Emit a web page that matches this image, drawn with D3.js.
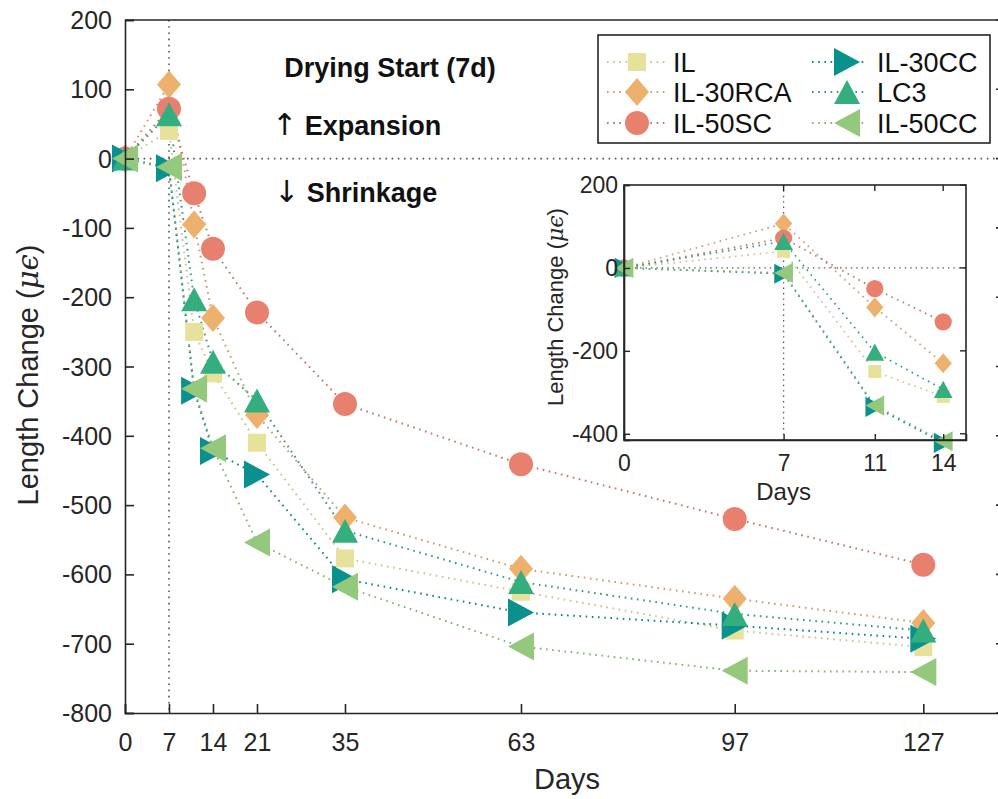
<!DOCTYPE html>
<html>
<head>
<meta charset="utf-8">
<script src="https://cdn.jsdelivr.net/npm/d3@7"></script>
<style>
  body { margin: 0; background: #fff; }
  svg { font-family: "Liberation Sans", Arial, Helvetica, sans-serif; }
</style>
</head>
<body>
<svg id="chart" width="998" height="799"></svg>
<script>
// data
var days = [0, 7, 11, 14, 21, 35, 63, 97, 127];
var seriesNames = ["IL", "IL-30RCA", "IL-50SC", "IL-30CC", "LC3", "IL-50CC"];
var IL       = [0, 40, -250, -310, -410, -577, -625, -681, -705];
var IL30RCA  = [0, 107, -95, -230, -370, -518, -592, -635, -670];
var IL50SC   = [0, 72, -50, -130, -222, -354, -441, -520, -586];
var IL30CC   = [0, -14, -335, -422, -456, -607, -655, -674, -693];
var LC3      = [0, 64, -203, -293, -349, -537, -611, -657, -681];
var IL50CC   = [0, -12, -332, -418, -554, -618, -704, -739, -741];
var xTicks = [0, 7, 14, 21, 35, 63, 97, 127];
var yTicks = [200, 100, 0, -100, -200, -300, -400, -500, -600, -700, -800];
var insetDays = [0, 7, 11, 14];
var insetYTicks = [200, 0, -200, -400];

var values = [IL, IL30RCA, IL50SC, IL30CC, LC3, IL50CC];
var markers = ["square", "diamond", "circle", "right", "up", "left"];
var fills = ["#e7e29b", "#eeb16d", "#e8806f", "#0a918d", "#35ae7f", "#93c87d"];
var strokes = ["#c9c48a", "#c99a6c", "#c27566", "#0b8783", "#2d9b76", "#7db56d"];

var txt = "#262626";
var plain = function (d) { return String(d); };
var svg = d3.select("#chart");

function markerPath(type, k) {
  var p = d3.path();
  if (type === "square") {
    var s = 9 * k; p.rect(-s, -s, 2 * s, 2 * s);
  } else if (type === "diamond") {
    var w = 12 * k, h = 14 * k;
    p.moveTo(0, -h); p.lineTo(w, 0); p.lineTo(0, h); p.lineTo(-w, 0); p.closePath();
  } else if (type === "circle") {
    p.arc(0, 0, 12 * k, 0, 2 * Math.PI);
  } else if (type === "up") {
    var a = 13 * k, b = 12 * k;
    p.moveTo(0, -b); p.lineTo(a, b); p.lineTo(-a, b); p.closePath();
  } else if (type === "right") {
    var a2 = 13 * k, b2 = 14 * k;
    p.moveTo(a2, 0); p.lineTo(-a2, b2); p.lineTo(-a2, -b2); p.closePath();
  } else if (type === "left") {
    var a3 = 13 * k, b3 = 14 * k;
    p.moveTo(-a3, 0); p.lineTo(a3, b3); p.lineTo(a3, -b3); p.closePath();
  }
  return p.toString();
}

function drawSeries(g, x, y, n, k) {
  seriesNames.forEach(function (name, i) {
    var pts = days.slice(0, n).map(function (d, j) { return [d, values[i][j]]; });
    var line = d3.line().x(function (d) { return x(d[0]); }).y(function (d) { return y(d[1]); });
    g.append("path")
      .attr("d", line(pts))
      .attr("fill", "none")
      .attr("stroke", strokes[i])
      .attr("stroke-width", k < 1 ? 1.7 : 2)
      .attr("stroke-dasharray", "1.6,4.6");
  });
  seriesNames.forEach(function (name, i) {
    var pts = days.slice(0, n).map(function (d, j) { return [d, values[i][j]]; });
    g.selectAll(null)
      .data(pts)
      .enter()
      .append("path")
      .attr("d", markerPath(markers[i], k))
      .attr("transform", function (d) { return "translate(" + x(d[0]) + "," + y(d[1]) + ")"; })
      .attr("fill", fills[i]);
  });
}

// ---------- main axes ----------
var pL = 125, pR = 1005, pT = 20, pB = 713;
var x = d3.scaleLinear().domain([0, 140]).range([pL, pR]);
var y = d3.scaleLinear().domain([-800, 200]).range([pB, pT]);

var main = svg.append("g");

// reference lines
main.append("line")
  .attr("x1", x(7)).attr("x2", x(7)).attr("y1", pT).attr("y2", pB)
  .attr("stroke", "#555").attr("stroke-width", 1.6).attr("stroke-dasharray", "1.6,4.6");
main.append("line")
  .attr("x1", pL).attr("x2", pR).attr("y1", y(0)).attr("y2", y(0))
  .attr("stroke", "#555").attr("stroke-width", 1.6).attr("stroke-dasharray", "1.6,4.6");

drawSeries(main, x, y, days.length, 1);

// axes
var yAxis = d3.axisLeft(y).tickValues(yTicks).tickSize(-9).tickPadding(13).tickFormat(plain);
var xAxis = d3.axisBottom(x).tickValues(xTicks).tickSize(-9).tickPadding(14).tickFormat(plain);

var gy = main.append("g").attr("transform", "translate(" + pL + ",0)").call(yAxis);
var gx = main.append("g").attr("transform", "translate(0," + pB + ")").call(xAxis);
[gy, gx].forEach(function (g) {
  g.select(".domain").attr("stroke", txt).attr("stroke-width", 1.6);
  g.selectAll(".tick line").attr("stroke", txt).attr("stroke-width", 1.6);
  g.selectAll(".tick text").attr("fill", txt).style("font-size", "25px");
});
gy.selectAll(".tick text").attr("dy", "0.34em");
gx.selectAll(".tick text").attr("dy", "0.95em");

// top and right frame
main.append("line").attr("x1", pL).attr("x2", pR).attr("y1", pT).attr("y2", pT)
  .attr("stroke", txt).attr("stroke-width", 1.6);
main.append("line").attr("x1", pR).attr("x2", pR).attr("y1", pT).attr("y2", pB)
  .attr("stroke", txt).attr("stroke-width", 1.6);
main.selectAll(".rtick").data(yTicks).enter().append("line")
  .attr("x1", pR).attr("x2", pR - 9)
  .attr("y1", function (d) { return y(d); }).attr("y2", function (d) { return y(d); })
  .attr("stroke", txt).attr("stroke-width", 1.6);

// axis labels
main.append("text")
  .attr("x", 567).attr("y", 789)
  .attr("text-anchor", "middle").attr("fill", txt)
  .style("font-size", "29px").text("Days");

var yl = main.append("text")
  .attr("transform", "translate(38,375) rotate(-90)")
  .attr("text-anchor", "middle").attr("fill", txt)
  .style("font-size", "29px");
yl.append("tspan").text("Length Change (");
yl.append("tspan").style("font-family", "'DejaVu Serif', serif").style("font-style", "italic").text("μϵ");
yl.append("tspan").text(")");

// annotations
main.append("text").attr("x", 390).attr("y", 77).attr("text-anchor", "middle")
  .attr("fill", "#111").style("font-size", "27px").style("font-weight", "bold")
  .text("Drying Start (7d)");
var up = main.append("text").attr("x", 272).attr("y", 135)
  .attr("fill", "#111").style("font-size", "27px").style("font-weight", "bold");
up.append("tspan").style("font-family", "'DejaVu Sans', sans-serif").style("font-weight", "normal")
  .style("font-size", "30px").text("↑");
up.append("tspan").text(" Expansion");
var dn = main.append("text").attr("x", 274).attr("y", 202)
  .attr("fill", "#111").style("font-size", "27px").style("font-weight", "bold");
dn.append("tspan").style("font-family", "'DejaVu Sans', sans-serif").style("font-weight", "normal")
  .style("font-size", "30px").text("↓");
dn.append("tspan").text(" Shrinkage");

// ---------- legend ----------
var legend = svg.append("g");
legend.append("rect")
  .attr("x", 598).attr("y", 35).attr("width", 392).attr("height", 108)
  .attr("fill", "#fff").attr("stroke", txt).attr("stroke-width", 1.6);
var legRows = [62, 92, 123];
var legCols = [{ l0: 607, l1: 665, m: 637, t: 673 }, { l0: 812, l1: 867, m: 847, t: 877 }];
seriesNames.forEach(function (name, i) {
  var c = legCols[Math.floor(i / 3)], r = legRows[i % 3];
  legend.append("line")
    .attr("x1", c.l0).attr("x2", c.l1).attr("y1", r).attr("y2", r)
    .attr("stroke", strokes[i]).attr("stroke-width", 2).attr("stroke-dasharray", "1.6,4.6");
  legend.append("path")
    .attr("d", markerPath(markers[i], 1))
    .attr("transform", "translate(" + c.m + "," + r + ")")
    .attr("fill", fills[i]);
  legend.append("text")
    .attr("x", c.t).attr("y", r).attr("dy", "0.36em")
    .attr("fill", "#111").style("font-size", "27px")
    .text(name);
});

// ---------- inset ----------
var iL = 624, iR = 966, iT = 185, iB = 440;
var xi = d3.scaleLinear().domain([0, 15]).range([iL, iR]);
var yi = d3.scaleLinear().domain([-415, 200]).range([iB, iT]);
var inset = svg.append("g");
inset.append("rect").attr("x", iL).attr("y", iT).attr("width", iR - iL).attr("height", iB - iT)
  .attr("fill", "#fff");
inset.append("line")
  .attr("x1", xi(7)).attr("x2", xi(7)).attr("y1", iT).attr("y2", iB)
  .attr("stroke", "#555").attr("stroke-width", 1.3).attr("stroke-dasharray", "1.4,4");
inset.append("line")
  .attr("x1", iL).attr("x2", iR).attr("y1", yi(0)).attr("y2", yi(0))
  .attr("stroke", "#555").attr("stroke-width", 1.3).attr("stroke-dasharray", "1.4,4");

drawSeries(inset, xi, yi, insetDays.length, 0.72);

var giy = inset.append("g").attr("transform", "translate(" + iL + ",0)")
  .call(d3.axisLeft(yi).tickValues(insetYTicks).tickSize(-6).tickPadding(6).tickFormat(plain));
var gix = inset.append("g").attr("transform", "translate(0," + iB + ")")
  .call(d3.axisBottom(xi).tickValues(insetDays).tickSize(-6).tickPadding(10).tickFormat(plain));
[giy, gix].forEach(function (g) {
  g.select(".domain").attr("stroke", txt).attr("stroke-width", 1.6);
  g.selectAll(".tick line").attr("stroke", txt).attr("stroke-width", 1.4);
  g.selectAll(".tick text").attr("fill", txt).style("font-size", "23px");
});
giy.selectAll(".tick text").attr("dy", "0.34em");
gix.selectAll(".tick text").attr("dy", "0.9em");
inset.append("rect").attr("x", iL).attr("y", iT).attr("width", iR - iL).attr("height", iB - iT)
  .attr("fill", "none").attr("stroke", txt).attr("stroke-width", 1.6);
inset.selectAll(".rt").data(insetYTicks).enter().append("line")
  .attr("x1", iR).attr("x2", iR - 6)
  .attr("y1", function (d) { return yi(d); }).attr("y2", function (d) { return yi(d); })
  .attr("stroke", txt).attr("stroke-width", 1.4);
inset.selectAll(".tt").data(insetDays).enter().append("line")
  .attr("y1", iT).attr("y2", iT + 6)
  .attr("x1", function (d) { return xi(d); }).attr("x2", function (d) { return xi(d); })
  .attr("stroke", txt).attr("stroke-width", 1.4);

inset.append("text")
  .attr("x", xi(7)).attr("y", 500)
  .attr("text-anchor", "middle").attr("fill", txt)
  .style("font-size", "24px").text("Days");
var iyl = inset.append("text")
  .attr("transform", "translate(563,307) rotate(-90)")
  .attr("text-anchor", "middle").attr("fill", txt)
  .style("font-size", "22px");
iyl.append("tspan").text("Length Change (");
iyl.append("tspan").style("font-family", "'DejaVu Serif', serif").style("font-style", "italic").text("μϵ");
iyl.append("tspan").text(")");
</script>
</body>
</html>
